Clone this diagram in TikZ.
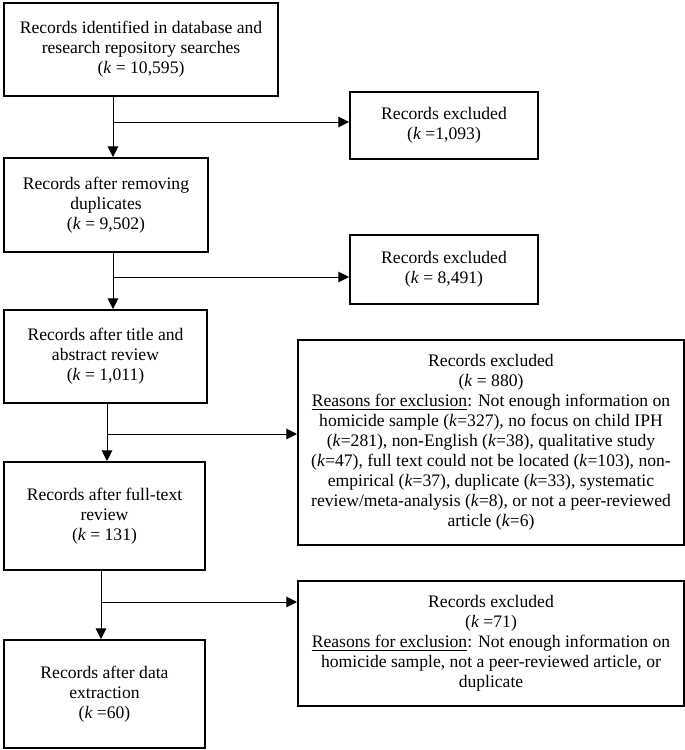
\documentclass[tikz,border=0pt]{standalone}
\usepackage{fontspec}
\setmainfont{Liberation Serif}
\usetikzlibrary{arrows.meta}

\tikzset{every picture/.style={line width=0.75pt}}
\tikzset{
  box/.style={draw, line width=1.5pt, rectangle, align=center, inner sep=0pt,
    font=\fontsize{13.2}{15}\selectfont},
  link/.style={line width=0.75pt},
  arrowlink/.style={line width=0.75pt, -{Triangle[length=8pt,width=8pt]}}
}

\begin{document}
\begin{tikzpicture}[x=0.75pt,y=0.75pt,yscale=-1,xscale=1]
    \useasboundingbox (0,0) rectangle (685,750);
    % Text Node
    \node[box, minimum width=205.5pt, minimum height=69.75pt] (ident) at (141,49.5)
      {Records identified in database and\\research repository searches\\(\textit{k} = 10,595)};
    % Text Node
    \node[box, minimum width=141pt, minimum height=50.25pt] (excla) at (444,125.5)
      {Records excluded\\(\textit{k} =1,093)};
    % Text Node
    \node[box, minimum width=153pt, minimum height=70.5pt] (dedup) at (106,205)
      {Records after removing\\duplicates\\(\textit{k} = 9,502)};
    % Text Node
    \node[box, minimum width=141pt, minimum height=51.75pt] (exclb) at (444,269.5)
      {Records excluded\\(\textit{k} = 8,491)};
    % Text Node
    \node[box, minimum width=152.25pt, minimum height=69.75pt] (title) at (105.5,356.5)
      {Records after title and\\abstract review\\(\textit{k} = 1,011)};
    % Text Node
    \node[box, minimum width=289.5pt, minimum height=153.75pt] (exclc) at (491,442.5)
      {Records excluded\\(\textit{k} = 880)\\
       \underline{Reasons for exclusion}: Not enough information on\\
       homicide sample (\textit{k}=327), no focus on child IPH\\
       (\textit{k}=281), non-English (\textit{k}=38), qualitative study\\
       (\textit{k}=47), full text could not be located (\textit{k}=103), non-\\
       empirical (\textit{k}=37), duplicate (\textit{k}=33), systematic\\
       review/meta-analysis (\textit{k}=8), or not a peer-reviewed\\
       article (\textit{k}=6)};
    % Text Node
    \node[box, minimum width=150.75pt, minimum height=81pt] (full) at (104.5,516)
      {Records after full-text\\review\\(\textit{k} = 131)};
    % Text Node
    \node[box, minimum width=289.5pt, minimum height=93.75pt] (excld) at (491,643.5)
      {Records excluded\\(\textit{k} =71)\\
       \underline{Reasons for exclusion}: Not enough information on\\
       homicide sample, not a peer-reviewed article, or\\
       duplicate};
    % Text Node
    \node[box, minimum width=150.75pt, minimum height=81pt] (final) at (104.5,694)
      {Records after data\\extraction\\(\textit{k} =60)};
    % Junctions
    \coordinate (ja) at (113,122);
    \coordinate (jb) at (113,277);
    \coordinate (jc) at (107,434);
    \coordinate (jd) at (101,602);
    % Connection
    \draw[link] (ident.south -| ja) -- (ja);
    \draw[arrowlink] (ja) -- (dedup.north -| ja);
    \draw[arrowlink] (ja) -- (excla.west |- ja);
    % Connection
    \draw[link] (dedup.south -| jb) -- (jb);
    \draw[arrowlink] (jb) -- (title.north -| jb);
    \draw[arrowlink] (jb) -- (exclb.west |- jb);
    % Connection
    \draw[link] (title.south -| jc) -- (jc);
    \draw[arrowlink] (jc) -- (full.north -| jc);
    \draw[arrowlink] (jc) -- (exclc.west |- jc);
    % Connection
    \draw[link] (full.south -| jd) -- (jd);
    \draw[arrowlink] (jd) -- (final.north -| jd);
    \draw[arrowlink] (jd) -- (excld.west |- jd);
\end{tikzpicture}
\end{document}
